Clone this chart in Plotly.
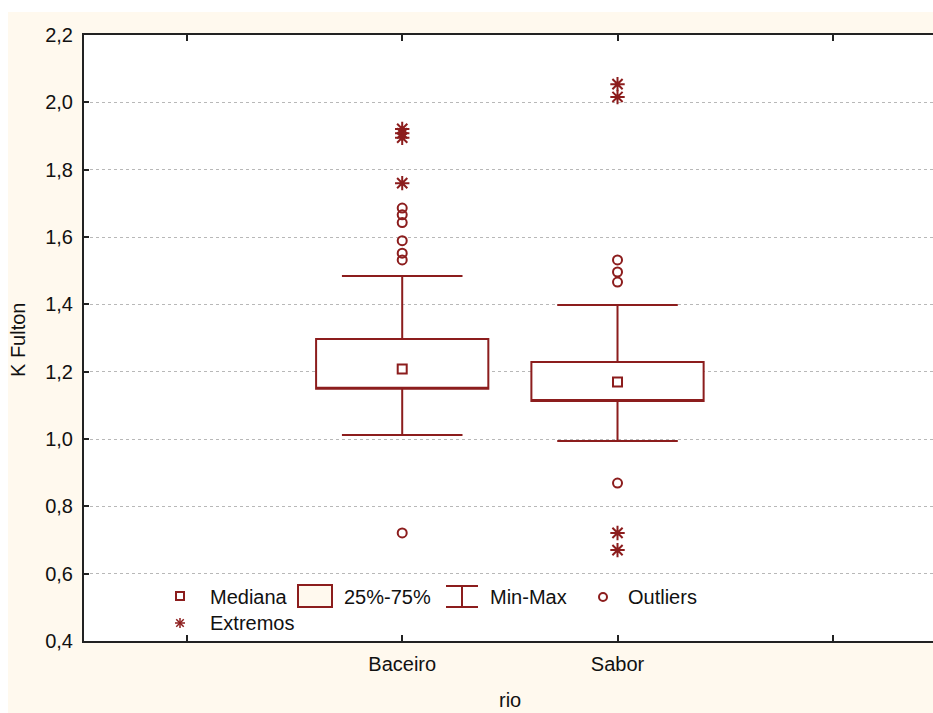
import plotly.graph_objects as go

# ---------------- data ----------------
categories = ["Baceiro", "Sabor"]
axis_slots = ["_pad0", "Baceiro", "Sabor", "_pad3"]
axis_labels = ["", "Baceiro", "Sabor", ""]
q1 = [1.149, 1.113]
q3 = [1.297, 1.229]
median = [1.208, 1.169]
whisker_min = [1.012, 0.994]
whisker_max = [1.484, 1.398]
outliers_baceiro = [1.686, 1.666, 1.643, 1.589, 1.552, 1.532, 0.721]
extremes_baceiro = [1.921, 1.908, 1.895, 1.760]
outliers_sabor = [1.532, 1.496, 1.466, 0.869]
extremes_sabor = [2.054, 2.016, 0.721, 0.670]
y_ticks = [0.4, 0.6, 0.8, 1.0, 1.2, 1.4, 1.6, 1.8, 2.0, 2.2]

RED = "#8C1D1D"
CREAM = "#FFF9EE"
FONT = "Liberation Sans, Arial, sans-serif"
OFF = 8                      # page body margin (top/left)
W, H = 950 - OFF, 713 - OFF  # figure size (plot runs past the window's right edge)
L, R, T, B = 84 - OFF, 0, 35 - OFF, 713 - 641

fig = go.Figure()

# boxes (median line hidden on the lower box edge; median drawn as square marker)
fig.add_trace(go.Box(
    x=categories, q1=q1, median=q1, q3=q3,
    lowerfence=whisker_min, upperfence=whisker_max,
    width=0.8, whiskerwidth=0.7, boxpoints=False,
    fillcolor="white", line=dict(color=RED, width=2),
    showlegend=False, hoverinfo="skip",
))
fig.add_trace(go.Scatter(
    x=categories, y=median, mode="markers",
    marker=dict(symbol="square-open", size=9, color=RED, line=dict(width=2, color=RED)),
    showlegend=False,
))
for cat, outl, extr in [("Baceiro", outliers_baceiro, extremes_baceiro),
                        ("Sabor", outliers_sabor, extremes_sabor)]:
    fig.add_trace(go.Scatter(
        x=[cat] * len(outl), y=outl, mode="markers",
        marker=dict(symbol="circle-open", size=9, color=RED, line=dict(width=2, color=RED)),
        showlegend=False,
    ))
    fig.add_trace(go.Scatter(
        x=[cat] * len(extr), y=extr, mode="markers",
        marker=dict(symbol="asterisk-open", size=12, color=RED, line=dict(width=2, color=RED)),
        showlegend=False,
    ))

# ---------------- helpers: page pixel -> paper ----------------
PW = W - L - R
PH = H - T - B
UNIT = 215.3  # pixels per category step in the reference


def px(x):
    return (x - OFF - L) / PW


def py(y):
    return (H - B - (y - OFF)) / PH


shapes = []
# thin white strip at the very top (reference cream starts a bit lower)
shapes.append(dict(type="rect", xref="paper", yref="paper", layer="below",
                   x0=px(0), x1=px(W + OFF + 5), y0=py(12), y1=py(0),
                   fillcolor="white", line=dict(width=0)))

# ---------------- legend (manual) ----------------
shapes.append(dict(type="rect", xref="paper", yref="paper",
                   x0=px(176), x1=px(184), y0=py(600), y1=py(592),
                   line=dict(color=RED, width=2), fillcolor="white"))
shapes.append(dict(type="rect", xref="paper", yref="paper",
                   x0=px(298), x1=px(332), y0=py(607), y1=py(585),
                   line=dict(color=RED, width=2), fillcolor=CREAM))
for (x0, y0, x1, y1) in [(462, 586, 462, 607), (446, 586, 478, 586), (446, 607, 478, 607)]:
    shapes.append(dict(type="line", xref="paper", yref="paper",
                       x0=px(x0), x1=px(x1), y0=py(y0), y1=py(y1),
                       line=dict(color=RED, width=2)))
shapes.append(dict(type="circle", xref="paper", yref="paper",
                   x0=px(599), x1=px(607), y0=py(601), y1=py(593),
                   line=dict(color=RED, width=2)))
cx, cy, r = 180, 623, 5
for (dx, dy) in [(r, 0), (0, r), (0.75 * r, 0.75 * r), (0.75 * r, -0.75 * r)]:
    shapes.append(dict(type="line", xref="paper", yref="paper",
                       x0=px(cx - dx), x1=px(cx + dx), y0=py(cy - dy), y1=py(cy + dy),
                       line=dict(color=RED, width=1.5)))

annotations = []
for text, x, y in [("Mediana", 208, 597), ("25%-75%", 342, 597), ("Min-Max", 488, 597),
                   ("Outliers", 626, 597), ("Extremos", 208, 623)]:
    annotations.append(dict(text=text, xref="paper", yref="paper", x=px(x), y=py(y),
                            xanchor="left", yanchor="middle", showarrow=False,
                            font=dict(size=20, color="#111", family=FONT)))
annotations.append(dict(text="K Fulton", xref="paper", yref="paper", x=px(18), y=py(340),
                        textangle=-90, xanchor="center", yanchor="middle", showarrow=False,
                        font=dict(size=20, color="#111", family=FONT)))
annotations.append(dict(text="rio", xref="paper", yref="paper", x=px(510), y=py(700),
                        xanchor="center", yanchor="middle", showarrow=False,
                        font=dict(size=20, color="#111", family=FONT)))

fig.update_layout(
    width=W, height=H,
    margin=dict(l=L, r=R, t=T, b=B, pad=0),
    paper_bgcolor=CREAM, plot_bgcolor="white",
    separators=", ",
    font=dict(family=FONT, size=20, color="#111"),
    shapes=shapes, annotations=annotations,
    showlegend=False,
)
x_start = -0.478
fig.update_xaxes(
    type="category", categoryorder="array", categoryarray=axis_slots,
    tickmode="array", tickvals=axis_slots, ticktext=axis_labels,
    range=[x_start, x_start + PW / UNIT],
    showline=True, linecolor="#222", linewidth=2, mirror="ticks",
    ticks="inside", ticklen=6, tickwidth=2, tickcolor="#222",
    showgrid=False, zeroline=False, ticklabelstandoff=4,
    tickfont=dict(size=20, family=FONT, color="#111"),
)
fig.update_yaxes(
    range=[0.4, 2.2], tickmode="array", tickvals=y_ticks, tickformat=".1f",
    showline=True, linecolor="#222", linewidth=2, mirror=False,
    ticks="inside", ticklen=5, tickwidth=2, tickcolor="#222",
    showgrid=True, gridcolor="#b8b8b8", griddash="dot", gridwidth=1,
    zeroline=False, ticklabelstandoff=5,
    tickfont=dict(size=20, family=FONT, color="#111"),
)

# keep the page exactly window-sized (no scrollbars)
post = ("document.body.style.margin='8px 0 0 8px';"
        "document.documentElement.style.overflow='hidden';"
        "document.body.style.overflow='hidden';")
fig.write_html("out.html", post_script=post)
